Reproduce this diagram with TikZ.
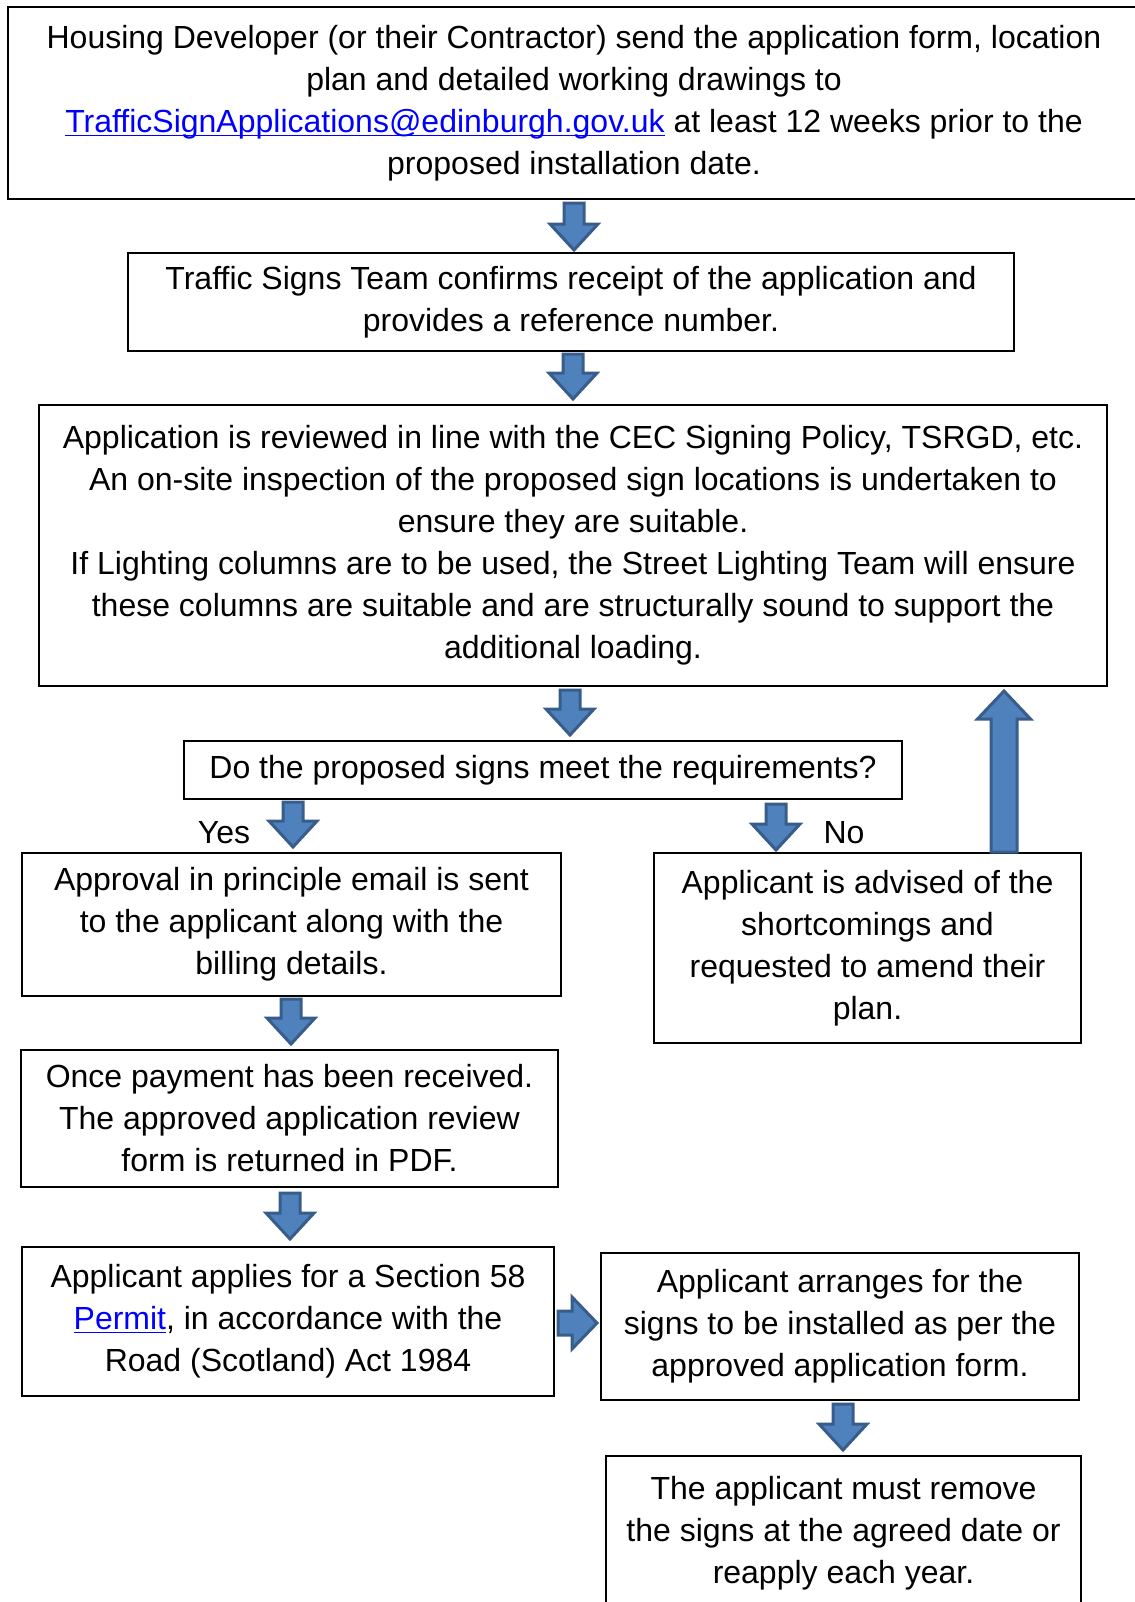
\documentclass[tikz,border=0pt]{standalone}
\usepackage{fontspec}
\setmainfont{Liberation Sans}
\usetikzlibrary{calc}
\definecolor{arrowfill}{HTML}{4F81BD}
\definecolor{arrowline}{HTML}{385D8A}
\definecolor{linkblue}{HTML}{0000FF}
\newcommand\weblink[1]{{\color{linkblue}\underline{\smash{#1}}}}
% block arrow: start, tip, half shaft, half head, head length
\newcommand\blockarrow[5]{%
  \coordinate (ba-s) at #1;
  \coordinate (ba-t) at #2;
  \coordinate (ba-b) at ($(ba-t)!#5!(ba-s)$);
  \filldraw[blockstyle] ($(ba-s)!#3!90:(ba-t)$) -- ($(ba-b)!#3!-90:(ba-s)$)
    -- ($(ba-b)!#4!-90:(ba-s)$) -- (ba-t) -- ($(ba-b)!#4!90:(ba-s)$)
    -- ($(ba-b)!#3!90:(ba-s)$) -- ($(ba-s)!#3!-90:(ba-t)$) -- cycle;}
\tikzset{
  stepbox/.style={draw,line width=1pt,fill=white,align=center,inner sep=0pt},
  blockstyle/.style={fill=arrowfill,draw=arrowline,line width=1.5pt},
  answer/.style={anchor=base,inner sep=0pt}
}
\begin{document}
\begin{tikzpicture}[x=.5pt,y=-.5pt,font=\fontsize{16}{21}\selectfont]
  \useasboundingbox (0,0) rectangle (1135,1602);
  \node[stepbox,minimum width=566pt,minimum height=96pt] (housing) at (574,103)
    {Housing Developer (or their Contractor) send the application form, location\\
     plan and detailed working drawings to\\
     \weblink{TrafficSignApplications@edinburgh.gov.uk} at least 12 weeks prior to the\\
     proposed installation date.};
  \node[stepbox,minimum width=443pt,minimum height=49pt] (receipt) at (571,302)
    {Traffic Signs Team confirms receipt of the application and\\
     provides a reference number.};
  \node[stepbox,minimum width=534pt,minimum height=140.5pt] (review) at (573,545.5)
    {Application is reviewed in line with the CEC Signing Policy, TSRGD, etc.\\
     An on-site inspection of the proposed sign locations is undertaken to\\
     ensure they are suitable.\\
     If Lighting columns are to be used, the Street Lighting Team will ensure\\
     these columns are suitable and are structurally sound to support the\\
     additional loading.};
  \node[stepbox,minimum width=359pt,minimum height=29pt] (meet) at (543,770)
    {Do the proposed signs meet the requirements?};
  \node[stepbox,minimum width=269.5pt,minimum height=71.5pt] (approval) at (291.5,924.5)
    {Approval in principle email is sent\\
     to the applicant along with the\\
     billing details.};
  \node[stepbox,minimum width=213.5pt,minimum height=95pt] (advised) at (867.5,948)
    {Applicant is advised of the\\
     shortcomings and\\
     requested to amend their\\
     plan.};
  \node[stepbox,minimum width=268.5pt,minimum height=68.5pt] (payment) at (289.5,1118.5)
    {Once payment has been received.\\
     The approved application review\\
     form is returned in PDF.};
  \node[stepbox,minimum width=266pt,minimum height=74.5pt] (permit) at (288,1321.5)
    {Applicant applies for a Section 58\\
     \weblink{Permit}, in accordance with the\\
     Road (Scotland) Act 1984};
  \node[stepbox,minimum width=239pt,minimum height=73.5pt] (install) at (840,1326.5)
    {Applicant arranges for the\\
     signs to be installed as per the\\
     approved application form.};
  \node[stepbox,minimum width=237.5pt,minimum height=77pt] (remove) at (843.5,1533)
    {The applicant must remove\\
     the signs at the agreed date or\\
     reapply each year.};
  \node[answer] (yes) at (224,843) {Yes};
  \node[answer] (no) at (844,843) {No};
  % arrows between the steps
  \coordinate (a1) at ($(housing.south)+(0,3)$);
  \blockarrow{(a1)}{($(a1 |- receipt.north)+(0,-2)$)}{5pt}{12pt}{13pt}
  \coordinate (a2) at ($(receipt.south)+(2,2)$);
  \blockarrow{(a2)}{($(a2 |- review.north)+(0,-5)$)}{5pt}{12pt}{13pt}
  \coordinate (a3) at ($(review.south)+(-3,3)$);
  \blockarrow{(a3)}{($(a3 |- meet.north)+(0,-5)$)}{5pt}{12pt}{13pt}
  \coordinate (ay) at ($(meet.south -| approval.north)+(1.5,2)$);
  \blockarrow{(ay)}{($(ay |- approval.north)+(0,-5)$)}{5pt}{12pt}{13pt}
  \coordinate (an) at ($(meet.south)+(233,4)$);
  \blockarrow{(an)}{($(an |- advised.north)+(0,-2)$)}{5pt}{12pt}{13pt}
  \coordinate (au) at ($(advised.north)+(136.5,0)$);
  \blockarrow{(au)}{($(au |- review.south)+(0,4)$)}{6.5pt}{13.25pt}{14pt}
  \coordinate (a5) at ($(approval.south)+(-.5,2)$);
  \blockarrow{(a5)}{($(a5 |- payment.north)+(0,-5)$)}{5pt}{12pt}{13pt}
  \coordinate (a6) at ($(payment.south)+(.5,5)$);
  \blockarrow{(a6)}{($(a6 |- permit.north)+(0,-7)$)}{5pt}{12pt}{13pt}
  \coordinate (ar) at ($(permit.east)+(3,1.5)$);
  \blockarrow{(ar)}{($(ar -| install.west)+(-3,0)$)}{6pt}{13pt}{12.5pt}
  \coordinate (a7) at ($(install.south)+(3,3)$);
  \blockarrow{(a7)}{($(a7 |- remove.north)+(0,-5)$)}{5pt}{12pt}{13pt}
\end{tikzpicture}
\end{document}
